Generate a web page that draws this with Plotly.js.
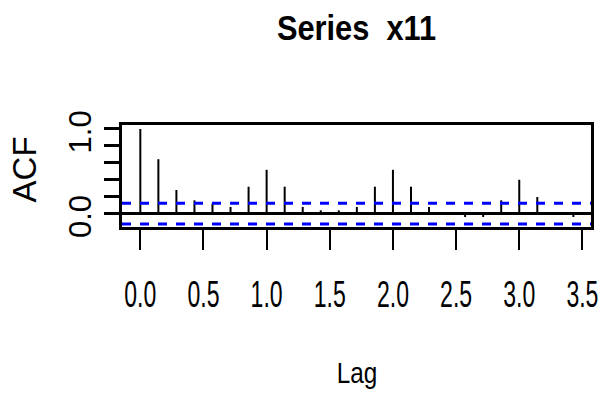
<!DOCTYPE html>
<html><head><meta charset="utf-8">
<script src="https://cdn.plot.ly/plotly-3.0.1.min.js"></script>
<style>html,body{margin:0;padding:0;background:#fff;} #chart{width:604px;height:399px;}</style>
</head><body><div id="chart"></div>
<script>
// ACF of series x11 (frequency 7) — lags in years
const lags = [0, 0.1429, 0.2857, 0.4286, 0.5714, 0.7143, 0.8571, 1.0, 1.1429, 1.2857, 1.4286, 1.5714, 1.7143,
              1.8571, 2.0, 2.1429, 2.2857, 2.4286, 2.5714, 2.7143, 2.8571, 3.0, 3.1429, 3.2857, 3.4286];
const acfValues = [1.0, 0.643, 0.279, 0.157, 0.118, 0.079, 0.318, 0.518, 0.318, 0.079, 0.039, 0.039, 0.079,
                   0.318, 0.518, 0.318, 0.079, 0.015, -0.04, -0.04, 0.157, 0.40, 0.196, 0.015, -0.04];
const ciBounds = [0.123, -0.123];
const xTickVals = [0, 0.5, 1.0, 1.5, 2.0, 2.5, 3.0, 3.5];
const xTickText = ['0.0', '0.5', '1.0', '1.5', '2.0', '2.5', '3.0', '3.5'];
const yTickVals = [0, 0.2, 0.4, 0.6, 0.8, 1.0];
const yTickText = ['0.0', '', '', '', '', '1.0'];

const spikeX = [], spikeY = [];
lags.forEach((l, i) => { spikeX.push(l, l, null); spikeY.push(0, acfValues[i], null); });

const traces = [{
  type: 'scatter', mode: 'lines', x: spikeX, y: spikeY,
  line: {color: '#000000', width: 2}, hoverinfo: 'skip', showlegend: false
}];

const shapes = ciBounds.map(c => ({
  type: 'line', xref: 'paper', x0: 0, x1: 1, yref: 'y', y0: c, y1: c,
  line: {color: '#0000FF', width: 3, dash: 'dash'}
}));

const layout = {
  width: 604, height: 399,
  margin: {l: 122, r: 13, t: 125, b: 172},
  paper_bgcolor: '#ffffff', plot_bgcolor: '#ffffff',
  showlegend: false,
  title: {
    text: '<b>Series  x11</b>',
    font: {family: 'Liberation Sans', size: 35, color: '#000000'},
    x: 0.5, xref: 'paper', xanchor: 'center',
    y: 1 - 28 / 399, yref: 'container', yanchor: 'middle'
  },
  xaxis: {
    range: [-0.145, 3.568], tickvals: xTickVals, ticktext: xTickText,
    showgrid: false, zeroline: false,
    showline: true, mirror: true, linecolor: '#000000', linewidth: 3,
    ticks: 'outside', ticklen: 20, tickwidth: 2, tickcolor: '#000000',
    tickfont: {family: 'Liberation Sans', size: 36, color: '#000000'},
    ticklabelstandoff: 14, ticklabeloverflow: 'allow'
  },
  yaxis: {
    range: [-0.158, 1.047], tickvals: yTickVals, ticktext: yTickText,
    showgrid: false, zeroline: true, zerolinecolor: '#000000', zerolinewidth: 3,
    showline: true, mirror: true, linecolor: '#000000', linewidth: 3,
    ticks: 'outside', ticklen: 15, tickwidth: 3, tickcolor: '#000000',
    tickangle: -90,
    tickfont: {family: 'Liberation Sans', size: 31, color: '#000000'},
    ticklabelstandoff: 15, ticklabeloverflow: 'allow'
  },
  shapes: shapes,
  annotations: [
    {text: 'Lag', xref: 'paper', x: 0.5, xanchor: 'center', yref: 'paper', y: -145.5 / 102, yanchor: 'middle',
     showarrow: false, font: {family: 'Liberation Sans', size: 30, color: '#000000'}},
    {text: 'ACF', xref: 'paper', x: -97.5 / 469.3, xanchor: 'center', yref: 'paper', y: 0.56, yanchor: 'middle',
     textangle: -90, showarrow: false, font: {family: 'Liberation Sans', size: 33, color: '#000000'}}
  ]
};

// narrow the horizontal texts around their own centre (the reference uses a condensed face)
function squeeze(el, factor) {
  if (!el) return;
  const b = el.getBBox();
  const cx = b.x + b.width / 2;
  const prev = el.getAttribute('transform') || '';
  el.setAttribute('transform',
    prev + ' translate(' + cx.toFixed(2) + ',0) scale(' + factor + ',1) translate(' + (-cx).toFixed(2) + ',0)');
}
// nudge a text in page coordinates
function nudge(el, dx, dy) {
  const prev = el.getAttribute('transform') || '';
  el.setAttribute('transform', 'translate(' + dx + ',' + dy + ') ' + prev);
}

Plotly.newPlot('chart', traces, layout, {staticPlot: true, displayModeBar: false}).then(gd => {
  gd.querySelectorAll('.xtick text').forEach(t => squeeze(t, 0.64));
  gd.querySelectorAll('.ytick text').forEach(t => nudge(t, 14, 7.5));
  squeeze(gd.querySelector('.gtitle'), 0.88);
  const ann = gd.querySelectorAll('.annotation-text');
  squeeze(ann[0], 0.81);
});
</script>
</body></html>
